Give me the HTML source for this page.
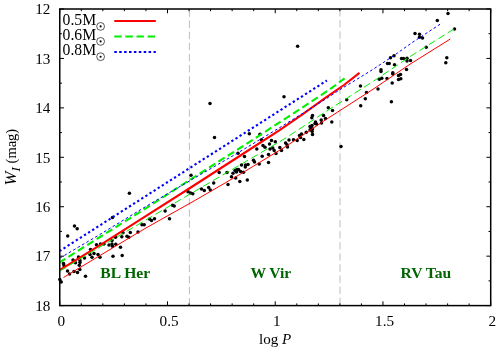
<!DOCTYPE html>
<html><head><meta charset="utf-8"><title>chart</title>
<style>html,body{margin:0;padding:0;background:#fff;}svg{display:block;will-change:transform;}text{font-family:"Liberation Serif",serif;fill:#000;}</style></head><body>
<svg width="500" height="350" viewBox="0 0 500 350">
<rect x="0" y="0" width="500" height="350" fill="#fff"/>
<line x1="189.4" y1="9.5" x2="189.4" y2="305.6" stroke="#bebebe" stroke-width="1" stroke-dasharray="7.4 3.7"/>
<line x1="340.0" y1="305.1" x2="340.0" y2="9.0" stroke="#bebebe" stroke-width="1" stroke-dasharray="7.4 3.7"/>
<circle cx="63.5" cy="263.5" r="1.75" fill="#000"/>
<circle cx="64.0" cy="265.5" r="1.75" fill="#000"/>
<circle cx="73.0" cy="260.0" r="1.75" fill="#000"/>
<circle cx="75.5" cy="262.8" r="1.75" fill="#000"/>
<circle cx="78.5" cy="257.0" r="1.75" fill="#000"/>
<circle cx="80.0" cy="260.5" r="1.75" fill="#000"/>
<circle cx="80.0" cy="262.5" r="1.75" fill="#000"/>
<circle cx="79.3" cy="265.3" r="1.75" fill="#000"/>
<circle cx="84.5" cy="258.0" r="1.75" fill="#000"/>
<circle cx="90.0" cy="254.5" r="1.75" fill="#000"/>
<circle cx="92.0" cy="257.2" r="1.75" fill="#000"/>
<circle cx="94.0" cy="253.5" r="1.75" fill="#000"/>
<circle cx="98.0" cy="254.5" r="1.75" fill="#000"/>
<circle cx="100.0" cy="257.2" r="1.75" fill="#000"/>
<circle cx="67.5" cy="271.0" r="1.75" fill="#000"/>
<circle cx="69.5" cy="274.0" r="1.75" fill="#000"/>
<circle cx="74.0" cy="271.5" r="1.75" fill="#000"/>
<circle cx="77.5" cy="272.5" r="1.75" fill="#000"/>
<circle cx="79.8" cy="269.5" r="1.75" fill="#000"/>
<circle cx="85.5" cy="276.2" r="1.75" fill="#000"/>
<circle cx="59.8" cy="279.5" r="1.75" fill="#000"/>
<circle cx="61.2" cy="282.0" r="1.75" fill="#000"/>
<circle cx="74.5" cy="226.0" r="1.75" fill="#000"/>
<circle cx="77.2" cy="228.8" r="1.75" fill="#000"/>
<circle cx="67.7" cy="236.0" r="1.75" fill="#000"/>
<circle cx="96.5" cy="244.8" r="1.75" fill="#000"/>
<circle cx="100.5" cy="244.0" r="1.75" fill="#000"/>
<circle cx="90.5" cy="249.5" r="1.75" fill="#000"/>
<circle cx="113.0" cy="256.2" r="1.75" fill="#000"/>
<circle cx="122.2" cy="255.5" r="1.75" fill="#000"/>
<circle cx="120.5" cy="247.2" r="1.75" fill="#000"/>
<circle cx="115.8" cy="244.2" r="1.75" fill="#000"/>
<circle cx="109.0" cy="245.0" r="1.75" fill="#000"/>
<circle cx="112.0" cy="244.0" r="1.75" fill="#000"/>
<circle cx="112.5" cy="246.2" r="1.75" fill="#000"/>
<circle cx="104.0" cy="244.0" r="1.75" fill="#000"/>
<circle cx="112.0" cy="240.5" r="1.75" fill="#000"/>
<circle cx="115.5" cy="237.2" r="1.75" fill="#000"/>
<circle cx="121.8" cy="236.8" r="1.75" fill="#000"/>
<circle cx="123.0" cy="232.8" r="1.75" fill="#000"/>
<circle cx="127.0" cy="236.2" r="1.75" fill="#000"/>
<circle cx="128.8" cy="237.2" r="1.75" fill="#000"/>
<circle cx="130.3" cy="232.5" r="1.75" fill="#000"/>
<circle cx="138.0" cy="232.0" r="1.75" fill="#000"/>
<circle cx="142.0" cy="224.8" r="1.75" fill="#000"/>
<circle cx="144.2" cy="224.8" r="1.75" fill="#000"/>
<circle cx="112.5" cy="217.5" r="1.75" fill="#000"/>
<circle cx="149.5" cy="219.0" r="1.75" fill="#000"/>
<circle cx="151.5" cy="220.5" r="1.75" fill="#000"/>
<circle cx="154.5" cy="218.8" r="1.75" fill="#000"/>
<circle cx="165.1" cy="211.0" r="1.75" fill="#000"/>
<circle cx="169.5" cy="218.7" r="1.75" fill="#000"/>
<circle cx="172.5" cy="205.2" r="1.75" fill="#000"/>
<circle cx="174.2" cy="206.0" r="1.75" fill="#000"/>
<circle cx="191.0" cy="175.3" r="1.75" fill="#000"/>
<circle cx="188.0" cy="191.8" r="1.75" fill="#000"/>
<circle cx="190.5" cy="193.0" r="1.75" fill="#000"/>
<circle cx="192.8" cy="193.7" r="1.75" fill="#000"/>
<circle cx="201.5" cy="189.0" r="1.75" fill="#000"/>
<circle cx="204.3" cy="190.5" r="1.75" fill="#000"/>
<circle cx="208.7" cy="187.5" r="1.75" fill="#000"/>
<circle cx="210.3" cy="190.0" r="1.75" fill="#000"/>
<circle cx="213.7" cy="183.0" r="1.75" fill="#000"/>
<circle cx="219.2" cy="172.5" r="1.75" fill="#000"/>
<circle cx="227.0" cy="172.5" r="1.75" fill="#000"/>
<circle cx="228.0" cy="184.5" r="1.75" fill="#000"/>
<circle cx="231.5" cy="176.8" r="1.75" fill="#000"/>
<circle cx="233.0" cy="173.2" r="1.75" fill="#000"/>
<circle cx="235.7" cy="178.0" r="1.75" fill="#000"/>
<circle cx="239.8" cy="181.5" r="1.75" fill="#000"/>
<circle cx="214.5" cy="137.5" r="1.75" fill="#000"/>
<circle cx="238.0" cy="153.3" r="1.75" fill="#000"/>
<circle cx="249.3" cy="133.7" r="1.75" fill="#000"/>
<circle cx="260.0" cy="134.2" r="1.75" fill="#000"/>
<circle cx="261.5" cy="139.7" r="1.75" fill="#000"/>
<circle cx="244.5" cy="156.5" r="1.75" fill="#000"/>
<circle cx="256.8" cy="149.0" r="1.75" fill="#000"/>
<circle cx="262.2" cy="156.2" r="1.75" fill="#000"/>
<circle cx="263.0" cy="145.5" r="1.75" fill="#000"/>
<circle cx="265.0" cy="147.2" r="1.75" fill="#000"/>
<circle cx="253.5" cy="160.3" r="1.75" fill="#000"/>
<circle cx="254.5" cy="162.0" r="1.75" fill="#000"/>
<circle cx="245.5" cy="165.0" r="1.75" fill="#000"/>
<circle cx="248.0" cy="164.5" r="1.75" fill="#000"/>
<circle cx="259.2" cy="164.0" r="1.75" fill="#000"/>
<circle cx="268.5" cy="162.5" r="1.75" fill="#000"/>
<circle cx="268.5" cy="154.5" r="1.75" fill="#000"/>
<circle cx="269.5" cy="144.0" r="1.75" fill="#000"/>
<circle cx="271.5" cy="140.5" r="1.75" fill="#000"/>
<circle cx="275.3" cy="141.8" r="1.75" fill="#000"/>
<circle cx="270.0" cy="149.0" r="1.75" fill="#000"/>
<circle cx="272.8" cy="148.0" r="1.75" fill="#000"/>
<circle cx="274.2" cy="150.5" r="1.75" fill="#000"/>
<circle cx="276.0" cy="153.5" r="1.75" fill="#000"/>
<circle cx="279.8" cy="147.5" r="1.75" fill="#000"/>
<circle cx="281.5" cy="150.5" r="1.75" fill="#000"/>
<circle cx="285.6" cy="143.0" r="1.75" fill="#000"/>
<circle cx="245.3" cy="167.0" r="1.75" fill="#000"/>
<circle cx="241.5" cy="165.0" r="1.75" fill="#000"/>
<circle cx="237.0" cy="169.5" r="1.75" fill="#000"/>
<circle cx="236.5" cy="172.0" r="1.75" fill="#000"/>
<circle cx="235.0" cy="170.5" r="1.75" fill="#000"/>
<circle cx="238.5" cy="169.5" r="1.75" fill="#000"/>
<circle cx="240.5" cy="171.5" r="1.75" fill="#000"/>
<circle cx="243.5" cy="172.2" r="1.75" fill="#000"/>
<circle cx="247.3" cy="180.0" r="1.75" fill="#000"/>
<circle cx="287.5" cy="147.0" r="1.75" fill="#000"/>
<circle cx="287.0" cy="144.8" r="1.75" fill="#000"/>
<circle cx="289.0" cy="140.0" r="1.75" fill="#000"/>
<circle cx="293.5" cy="139.8" r="1.75" fill="#000"/>
<circle cx="297.2" cy="140.5" r="1.75" fill="#000"/>
<circle cx="299.5" cy="135.5" r="1.75" fill="#000"/>
<circle cx="301.5" cy="134.0" r="1.75" fill="#000"/>
<circle cx="300.5" cy="137.5" r="1.75" fill="#000"/>
<circle cx="303.8" cy="139.5" r="1.75" fill="#000"/>
<circle cx="306.3" cy="132.2" r="1.75" fill="#000"/>
<circle cx="310.0" cy="126.5" r="1.75" fill="#000"/>
<circle cx="312.0" cy="125.5" r="1.75" fill="#000"/>
<circle cx="311.0" cy="128.0" r="1.75" fill="#000"/>
<circle cx="312.5" cy="129.0" r="1.75" fill="#000"/>
<circle cx="310.0" cy="130.0" r="1.75" fill="#000"/>
<circle cx="312.2" cy="131.5" r="1.75" fill="#000"/>
<circle cx="312.5" cy="134.5" r="1.75" fill="#000"/>
<circle cx="311.8" cy="117.8" r="1.75" fill="#000"/>
<circle cx="312.5" cy="115.6" r="1.75" fill="#000"/>
<circle cx="315.5" cy="122.0" r="1.75" fill="#000"/>
<circle cx="316.5" cy="124.0" r="1.75" fill="#000"/>
<circle cx="315.0" cy="123.5" r="1.75" fill="#000"/>
<circle cx="321.2" cy="120.0" r="1.75" fill="#000"/>
<circle cx="321.5" cy="123.0" r="1.75" fill="#000"/>
<circle cx="323.5" cy="115.4" r="1.75" fill="#000"/>
<circle cx="325.5" cy="118.5" r="1.75" fill="#000"/>
<circle cx="284.0" cy="96.7" r="1.75" fill="#000"/>
<circle cx="328.3" cy="107.8" r="1.75" fill="#000"/>
<circle cx="332.5" cy="110.5" r="1.75" fill="#000"/>
<circle cx="346.7" cy="99.8" r="1.75" fill="#000"/>
<circle cx="360.5" cy="86.0" r="1.75" fill="#000"/>
<circle cx="366.5" cy="92.5" r="1.75" fill="#000"/>
<circle cx="365.3" cy="98.8" r="1.75" fill="#000"/>
<circle cx="360.7" cy="105.7" r="1.75" fill="#000"/>
<circle cx="331.8" cy="122.0" r="1.75" fill="#000"/>
<circle cx="378.0" cy="89.0" r="1.75" fill="#000"/>
<circle cx="379.3" cy="79.3" r="1.75" fill="#000"/>
<circle cx="381.8" cy="78.3" r="1.75" fill="#000"/>
<circle cx="381.0" cy="69.8" r="1.75" fill="#000"/>
<circle cx="381.0" cy="71.5" r="1.75" fill="#000"/>
<circle cx="387.0" cy="78.5" r="1.75" fill="#000"/>
<circle cx="387.5" cy="63.5" r="1.75" fill="#000"/>
<circle cx="389.2" cy="63.5" r="1.75" fill="#000"/>
<circle cx="390.5" cy="57.7" r="1.75" fill="#000"/>
<circle cx="394.0" cy="55.8" r="1.75" fill="#000"/>
<circle cx="394.5" cy="64.7" r="1.75" fill="#000"/>
<circle cx="392.8" cy="72.8" r="1.75" fill="#000"/>
<circle cx="392.8" cy="74.0" r="1.75" fill="#000"/>
<circle cx="392.2" cy="83.0" r="1.75" fill="#000"/>
<circle cx="398.5" cy="75.5" r="1.75" fill="#000"/>
<circle cx="400.5" cy="74.5" r="1.75" fill="#000"/>
<circle cx="398.5" cy="79.5" r="1.75" fill="#000"/>
<circle cx="400.8" cy="78.7" r="1.75" fill="#000"/>
<circle cx="401.5" cy="58.6" r="1.75" fill="#000"/>
<circle cx="403.5" cy="58.6" r="1.75" fill="#000"/>
<circle cx="406.5" cy="69.5" r="1.75" fill="#000"/>
<circle cx="407.0" cy="58.3" r="1.75" fill="#000"/>
<circle cx="407.0" cy="61.0" r="1.75" fill="#000"/>
<circle cx="410.5" cy="60.5" r="1.75" fill="#000"/>
<circle cx="415.0" cy="33.5" r="1.75" fill="#000"/>
<circle cx="419.5" cy="34.2" r="1.75" fill="#000"/>
<circle cx="419.5" cy="37.2" r="1.75" fill="#000"/>
<circle cx="422.5" cy="38.0" r="1.75" fill="#000"/>
<circle cx="426.2" cy="47.2" r="1.75" fill="#000"/>
<circle cx="446.8" cy="57.7" r="1.75" fill="#000"/>
<circle cx="445.8" cy="62.8" r="1.75" fill="#000"/>
<circle cx="454.5" cy="29.1" r="1.75" fill="#000"/>
<circle cx="448.0" cy="13.6" r="1.75" fill="#000"/>
<circle cx="437.3" cy="20.4" r="1.75" fill="#000"/>
<circle cx="297.6" cy="46.3" r="1.75" fill="#000"/>
<circle cx="210.0" cy="103.4" r="1.75" fill="#000"/>
<circle cx="341.0" cy="146.6" r="1.75" fill="#000"/>
<circle cx="391.4" cy="101.8" r="1.75" fill="#000"/>
<circle cx="129.4" cy="193.2" r="1.75" fill="#000"/>
<path d="M60.00,269.80 L100.50,244.80 L145.00,216.70 L190.00,188.00 L235.00,159.00 L280.00,129.80 L302.50,114.40 L325.00,98.10 L344.00,85.00 L359.50,72.80" fill="none" stroke="#ff0000" stroke-width="2.1"/>
<path d="M60.00,262.20 L100.00,237.00 L145.00,208.90 L190.00,179.70 L240.00,148.00 L285.50,118.60 L330.00,89.30 L344.60,78.30" fill="none" stroke="#00ee00" stroke-width="2.1" stroke-dasharray="7.4 3.7" stroke-dashoffset="1.1"/>
<path d="M60.00,250.80 L326.90,80.50" fill="none" stroke="#0000ff" stroke-width="2.1" stroke-dasharray="2.3 2.557" stroke-dashoffset="0.67"/>
<path d="M63.50,277.50 L100.00,255.50 L145.00,228.50 L195.00,200.40 L240.00,174.30 L285.00,147.00 L326.50,119.20 L373.00,89.30 L410.00,64.20 L450.30,39.00" fill="none" stroke="#ff0000" stroke-width="1.0"/>
<path d="M60.00,271.00 L100.00,247.00 L145.00,220.50 L193.50,192.00 L242.50,163.50 L285.00,138.50 L326.00,111.50 L373.00,81.50 L410.00,56.60 L454.00,28.90" fill="none" stroke="#00ee00" stroke-width="1.0" stroke-dasharray="7.4 3.7"/>
<path d="M60.00,258.00 L100.00,234.40 L147.50,205.50 L194.50,178.00 L236.00,154.00 L281.50,126.50 L322.00,101.40 L341.00,89.00 L372.00,70.00 L394.00,55.50 L412.00,42.70 L429.50,31.20 L442.20,22.80" fill="none" stroke="#0000ff" stroke-width="1.0" stroke-dasharray="2.7 2.4"/>
<rect x="59.75" y="9.0" width="430.95" height="296.6" fill="none" stroke="#000" stroke-width="1.5"/>
<path d="M59.75,305.6 v-4.3 M59.75,9.0 v4.3 M81.30,305.6 v-2.2 M81.30,9.0 v2.2 M102.84,305.6 v-2.2 M102.84,9.0 v2.2 M124.39,305.6 v-2.2 M124.39,9.0 v2.2 M145.94,305.6 v-2.2 M145.94,9.0 v2.2 M167.49,305.6 v-4.3 M167.49,9.0 v4.3 M189.03,305.6 v-2.2 M189.03,9.0 v2.2 M210.58,305.6 v-2.2 M210.58,9.0 v2.2 M232.13,305.6 v-2.2 M232.13,9.0 v2.2 M253.68,305.6 v-2.2 M253.68,9.0 v2.2 M275.23,305.6 v-4.3 M275.23,9.0 v4.3 M296.77,305.6 v-2.2 M296.77,9.0 v2.2 M318.32,305.6 v-2.2 M318.32,9.0 v2.2 M339.87,305.6 v-2.2 M339.87,9.0 v2.2 M361.41,305.6 v-2.2 M361.41,9.0 v2.2 M382.96,305.6 v-4.3 M382.96,9.0 v4.3 M404.51,305.6 v-2.2 M404.51,9.0 v2.2 M426.06,305.6 v-2.2 M426.06,9.0 v2.2 M447.61,305.6 v-2.2 M447.61,9.0 v2.2 M469.15,305.6 v-2.2 M469.15,9.0 v2.2 M490.70,305.6 v-4.3 M490.70,9.0 v4.3 M59.75,9.00 h4.3 M490.7,9.00 h-4.3 M59.75,33.72 h2.2 M490.7,33.72 h-2.2 M59.75,58.43 h4.3 M490.7,58.43 h-4.3 M59.75,83.15 h2.2 M490.7,83.15 h-2.2 M59.75,107.87 h4.3 M490.7,107.87 h-4.3 M59.75,132.58 h2.2 M490.7,132.58 h-2.2 M59.75,157.30 h4.3 M490.7,157.30 h-4.3 M59.75,182.02 h2.2 M490.7,182.02 h-2.2 M59.75,206.73 h4.3 M490.7,206.73 h-4.3 M59.75,231.45 h2.2 M490.7,231.45 h-2.2 M59.75,256.17 h4.3 M490.7,256.17 h-4.3 M59.75,280.88 h2.2 M490.7,280.88 h-2.2 M59.75,305.60 h4.3 M490.7,305.60 h-4.3" stroke="#000" stroke-width="1" fill="none"/>
<text x="50.4" y="14.20" font-size="15.2" text-anchor="end">12</text>
<text x="50.4" y="63.63" font-size="15.2" text-anchor="end">13</text>
<text x="50.4" y="113.07" font-size="15.2" text-anchor="end">14</text>
<text x="50.4" y="162.50" font-size="15.2" text-anchor="end">15</text>
<text x="50.4" y="211.93" font-size="15.2" text-anchor="end">16</text>
<text x="50.4" y="261.37" font-size="15.2" text-anchor="end">17</text>
<text x="50.4" y="310.80" font-size="15.2" text-anchor="end">18</text>
<text x="61.35" y="325.9" font-size="15.2" text-anchor="middle">0</text>
<text x="169.09" y="325.9" font-size="15.2" text-anchor="middle">0.5</text>
<text x="276.83" y="325.9" font-size="15.2" text-anchor="middle">1</text>
<text x="384.56" y="325.9" font-size="15.2" text-anchor="middle">1.5</text>
<text x="492.30" y="325.9" font-size="15.2" text-anchor="middle">2</text>
<text x="275.2" y="344" font-size="15.1" text-anchor="middle">log <tspan font-style="italic">P</tspan></text>
<text transform="translate(16.2,157.1) rotate(-90)" font-size="14.5" text-anchor="middle"><tspan font-style="italic" font-size="16.8">W</tspan><tspan font-style="italic" font-size="13" dy="3.5">I</tspan><tspan dy="-3.5"> (mag)</tspan></text>
<text x="100.3" y="277.6" font-size="15.6" font-weight="bold" text-anchor="start" style="fill:#006400">BL Her</text>
<text x="250.4" y="277.6" font-size="15.6" font-weight="bold" text-anchor="start" style="fill:#006400">W Vir</text>
<text x="400.5" y="277.6" font-size="15.6" font-weight="bold" text-anchor="start" style="fill:#006400">RV Tau</text>
<text x="62.6" y="24.9" font-size="15.7">0.5M</text>
<circle cx="100.6" cy="26.4" r="3.9" fill="none" stroke="#000" stroke-width="0.65"/><circle cx="100.6" cy="26.4" r="1.05" fill="#000"/>
<line x1="114.3" y1="21.1" x2="155.8" y2="21.1" stroke="#ff0000" stroke-width="2.0"/>
<text x="62.6" y="39.9" font-size="15.7">0.6M</text>
<circle cx="100.6" cy="41.4" r="3.9" fill="none" stroke="#000" stroke-width="0.65"/><circle cx="100.6" cy="41.4" r="1.05" fill="#000"/>
<line x1="114.3" y1="36.45" x2="155.8" y2="36.45" stroke="#00ee00" stroke-width="2.0" stroke-dasharray="7.4 3.7"/>
<text x="62.6" y="54.9" font-size="15.7">0.8M</text>
<circle cx="100.6" cy="56.7" r="3.9" fill="none" stroke="#000" stroke-width="0.65"/><circle cx="100.6" cy="56.7" r="1.05" fill="#000"/>
<line x1="114.3" y1="51.9" x2="155.8" y2="51.9" stroke="#0000ff" stroke-width="2.0" stroke-dasharray="2.5 2.4"/>
</svg></body></html>
